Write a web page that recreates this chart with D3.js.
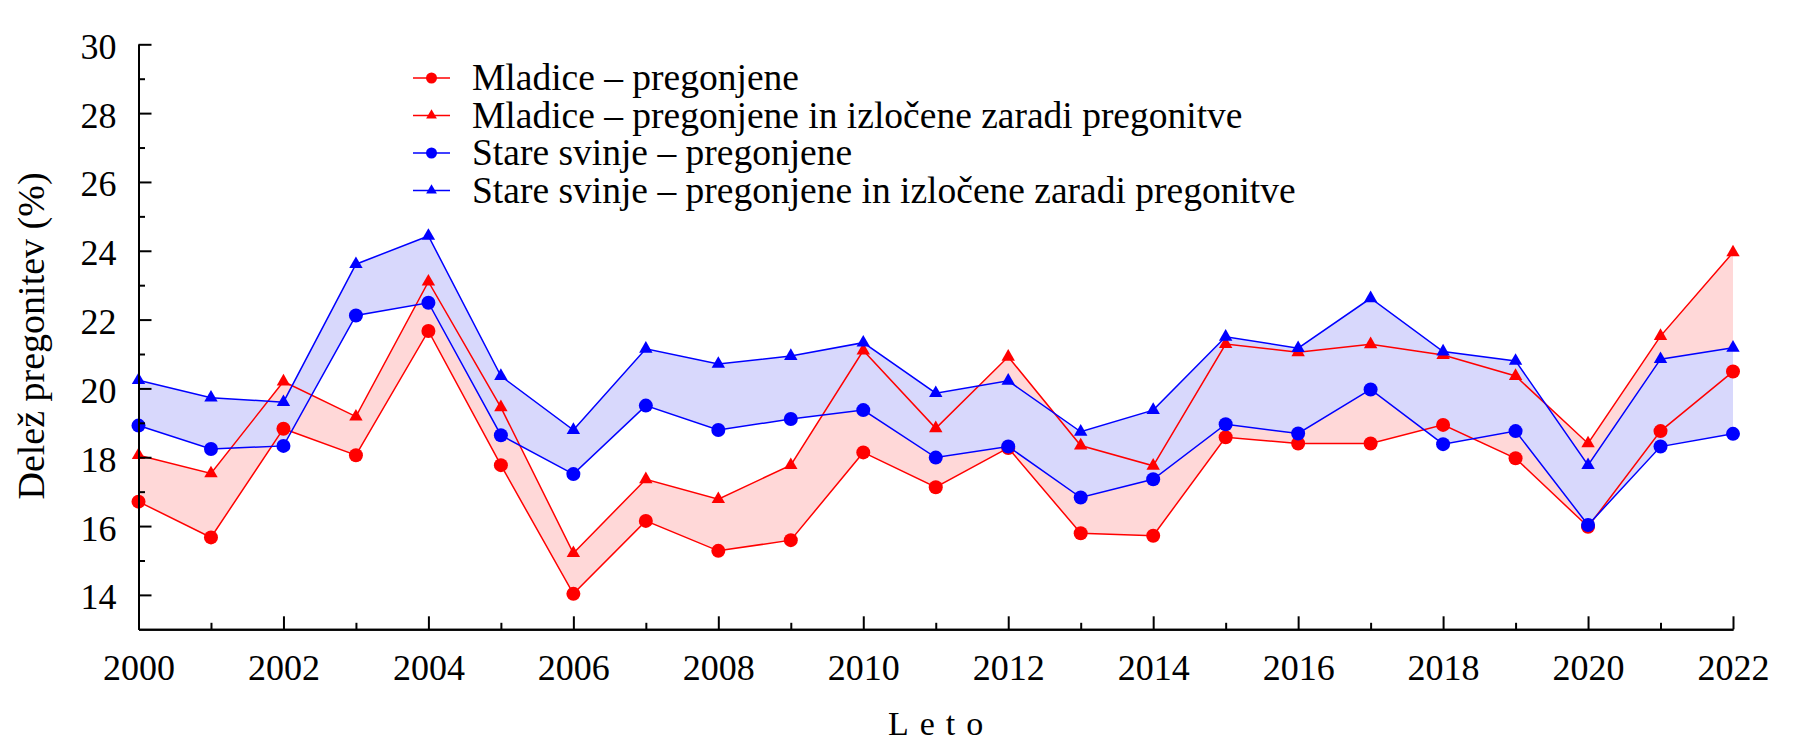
<!DOCTYPE html>
<html>
<head>
<meta charset="utf-8">
<script src="https://cdn.jsdelivr.net/npm/d3@7"></script>
<style>
  body { margin: 0; background: #fff; }
  svg { display: block; font-family: "Liberation Serif", "Times New Roman", serif; }
  .axis .domain { stroke: #000; stroke-width: 2; }
  .axis line { stroke: #000; stroke-width: 2; }
  .axis text { font-family: "Liberation Serif", "Times New Roman", serif; font-size: 36px; fill: #000; }
</style>
</head>
<body>
<svg width="1800" height="750"></svg>
<script>
// leta in deleži pregonitev (%)
const years = [2000, 2001, 2002, 2003, 2004, 2005, 2006, 2007, 2008, 2009, 2010, 2011,
               2012, 2013, 2014, 2015, 2016, 2017, 2018, 2019, 2020, 2021, 2022];

const mladicePregonjene     = [16.71, 15.67, 18.83, 18.06, 21.67, 17.77, 14.03, 16.15, 15.28, 15.59, 18.14, 17.13,
                               18.27, 15.79, 15.72, 18.58, 18.40, 18.40, 18.94, 17.97, 15.98, 18.76, 20.49];
const mladiceIzlocene       = [18.06, 17.53, 20.20, 19.18, 23.10, 19.45, 15.21, 17.36, 16.78, 17.77, 21.10, 18.84,
                               20.92, 18.34, 17.75, 21.29, 21.05, 21.28, 20.97, 20.36, 18.40, 21.52, 23.95];
const stareSvinjePregonjene = [18.92, 18.24, 18.33, 22.12, 22.49, 18.64, 17.51, 19.50, 18.79, 19.11, 19.37, 17.99,
                               18.31, 16.83, 17.36, 18.96, 18.69, 19.97, 18.38, 18.76, 16.03, 18.31, 18.68];
const stareSvinjeIzlocene   = [20.24, 19.73, 19.60, 23.61, 24.43, 20.36, 18.79, 21.15, 20.71, 20.94, 21.33, 19.86,
                               20.22, 18.74, 19.37, 21.50, 21.17, 22.62, 21.07, 20.80, 17.77, 20.85, 21.18];

const yMajorTicks = [14, 16, 18, 20, 22, 24, 26, 28, 30];
const yMinorTicks = [15, 17, 19, 21, 23, 25, 27, 29];
const xMajorTicks = [2000, 2002, 2004, 2006, 2008, 2010, 2012, 2014, 2016, 2018, 2020, 2022];
const xMinorTicks = [2001, 2003, 2005, 2007, 2009, 2011, 2013, 2015, 2017, 2019, 2021];

const legendLabels = ["Mladice – pregonjene",
                      "Mladice – pregonjene in izločene zaradi pregonitve",
                      "Stare svinje – pregonjene",
                      "Stare svinje – pregonjene in izločene zaradi pregonitve"];

const RED = "#ff0000", BLUE = "#0000ff",
      PINK = "#ffd8d8", LAVENDER = "#d8d8fc";

let svg = d3.select("svg"),
    x   = d3.scaleLinear().domain([2000, 2022]).range([138.5, 1733]),
    y   = d3.scaleLinear().domain([13, 30]).range([629.3, 44.3]),
    g   = svg.append("g");

let series = [
  {name: legendLabels[0], values: mladicePregonjene,     color: RED,  shape: "circle"},
  {name: legendLabels[1], values: mladiceIzlocene,       color: RED,  shape: "triangle"},
  {name: legendLabels[2], values: stareSvinjePregonjene, color: BLUE, shape: "circle"},
  {name: legendLabels[3], values: stareSvinjeIzlocene,   color: BLUE, shape: "triangle"}
];

// pasovi med obema krivuljama iste barve
let area = d3.area()
  .x((d, i) => x(years[i]))
  .y0(d => y(d[0]))
  .y1(d => y(d[1]));

g.append("path")
  .datum(mladicePregonjene.map((v, i) => [v, mladiceIzlocene[i]]))
  .attr("fill", PINK)
  .attr("d", area);

g.append("path")
  .datum(stareSvinjePregonjene.map((v, i) => [v, stareSvinjeIzlocene[i]]))
  .attr("fill", LAVENDER)
  .attr("d", area);

let line = d3.line()
  .x((d, i) => x(years[i]))
  .y(d => y(d));

let circleSym   = d3.symbol(d3.symbolCircle, Math.PI * 7 * 7),
    triangleSym = d3.symbol(d3.symbolTriangle, 78);

series.forEach(s => {
  let sg = g.append("g");
  sg.append("path")
    .datum(s.values)
    .attr("fill", "none")
    .attr("stroke", s.color)
    .attr("stroke-width", 1.5)
    .attr("d", line);
  sg.selectAll(".pt")
    .data(s.values)
    .enter().append("path")
      .attr("class", "pt")
      .attr("transform", (d, i) => `translate(${x(years[i])},${y(d)})`)
      .attr("fill", s.color)
      .attr("d", s.shape == "circle" ? circleSym : triangleSym);
});

// osi
svg.append("g")
  .attr("class", "axis")
  .attr("transform", `translate(${x.range()[0]},0)`)
  .call(d3.axisLeft(y).tickValues(yMinorTicks).tickSize(-6.5).tickSizeOuter(0).tickFormat(""));

svg.append("g")
  .attr("class", "axis")
  .attr("transform", `translate(${x.range()[0]},0)`)
  .call(d3.axisLeft(y).tickValues(yMajorTicks).tickSize(-13).tickSizeOuter(0).tickPadding(22))
  .selectAll("text")
    .attr("dy", "0.39em");

svg.append("g")
  .attr("class", "axis")
  .attr("transform", `translate(0,${y.range()[0]})`)
  .call(d3.axisBottom(x).tickValues(xMinorTicks).tickSize(-6.5).tickSizeOuter(0).tickFormat(""));

svg.append("g")
  .attr("class", "axis")
  .attr("transform", `translate(0,${y.range()[0]})`)
  .call(d3.axisBottom(x).tickValues(xMajorTicks).tickSize(-13).tickSizeOuter(0).tickFormat(d3.format("d")))
  .selectAll("text")
    .attr("y", 51)
    .attr("dy", null);

svg.append("text")
  .attr("transform", "translate(44,336) rotate(-90)")
  .attr("text-anchor", "middle")
  .style("font-size", "38px")
  .text("Delež pregonitev (%)");

svg.append("text")
  .attr("x", 888)
  .attr("y", 735)
  .style("font-size", "34px")
  .style("letter-spacing", "11px")
  .text("Leto");

// legenda
let legend = svg.append("g")
  .attr("transform", "translate(413,78)");

let rows = legend.selectAll(".row")
  .data(series)
  .enter().append("g")
    .attr("class", "row")
    .attr("transform", (d, i) => `translate(0,${i * 37.5})`);

rows.append("line")
  .attr("x1", 0).attr("x2", 37)
  .attr("stroke", d => d.color)
  .attr("stroke-width", 1.5);

rows.append("path")
  .attr("transform", "translate(18.5,0)")
  .attr("fill", d => d.color)
  .attr("d", d => d.shape == "circle" ? d3.symbol(d3.symbolCircle, Math.PI * 5.5 * 5.5)()
                                      : d3.symbol(d3.symbolTriangle, 50)());

rows.append("text")
  .attr("x", 59)
  .attr("y", 12)
  .style("font-size", "37.5px")
  .text(d => d.name);
</script>
</body>
</html>
